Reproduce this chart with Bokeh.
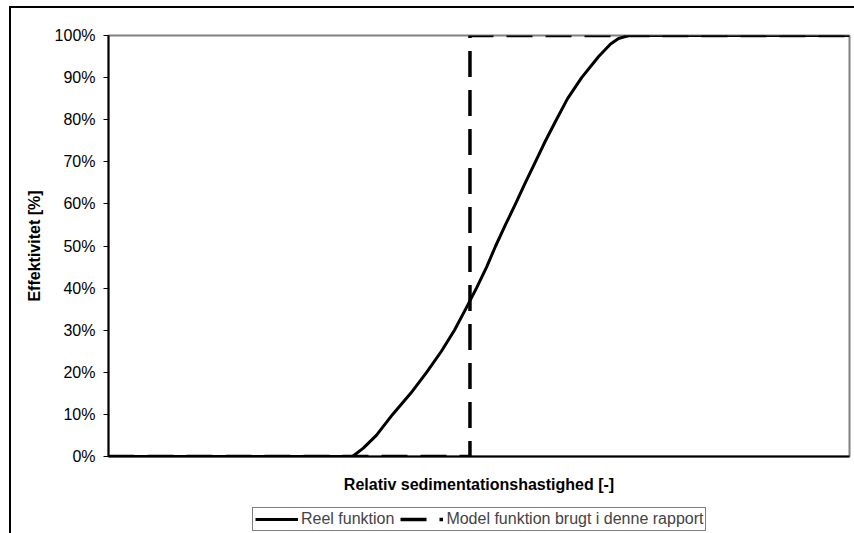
from bokeh.plotting import figure
from bokeh.layouts import column
from bokeh.models import (Range1d, FixedTicker, PrintfTickFormatter,
                          Legend, LegendItem)
from bokeh.embed import file_html
from bokeh.resources import INLINE

# ---- data ----
x_real = [0.0, 0.675, 0.705, 0.741, 0.786, 0.836, 0.880, 0.921, 0.957, 0.988,
          1.018, 1.046, 1.071, 1.098, 1.126, 1.153, 1.181, 1.209, 1.239, 1.270,
          1.309, 1.356, 1.389, 1.411, 1.439, 2.05]
y_real = [0, 0, 2, 5, 10, 15, 20, 25, 30, 35,
          40, 45, 50, 55, 60, 65, 70, 75, 80, 85,
          90, 95, 98, 99.3, 100, 100]

x_model = [0.0, 1.0, 1.0, 2.05]
y_model = [0, 0, 100, 100]

y_ticks = [0, 10, 20, 30, 40, 50, 60, 70, 80, 90, 100]

label_real = "Reel funktion"
label_model = "Model funktion brugt i denne rapport"
x_title = "Relativ sedimentationshastighed [-]"
y_title = "Effektivitet [%]"

FONT = "Liberation Sans"
DASH = "26 13"

frame_css = ("linear-gradient(black, black) 9px 6px / 2px 100% no-repeat, "
             "linear-gradient(black, black) 9px 6px / 100% 2px no-repeat, white")

# ---- main chart ----
p = figure(width=854, height=500, x_range=Range1d(0, 2.05), y_range=Range1d(0, 100),
           output_backend="svg", toolbar_location=None,
           min_border_left=108, min_border_right=5, min_border_top=35,
           min_border_bottom=44)

p.grid.visible = False
p.background_fill_color = "white"
p.border_fill_alpha = 0
p.outline_line_color = "#808080"
p.outline_line_width = 2

p.line(x_real, y_real, line_color="black", line_width=3, line_join="round")
p.line(x_model, y_model, line_color="black", line_width=3.5, line_dash=DASH)

xa = p.xaxis[0]
xa.ticker = FixedTicker(ticks=[])
xa.axis_label = x_title
xa.axis_label_text_font = FONT
xa.axis_label_text_font_size = "16px"
xa.axis_label_text_font_style = "bold"
xa.axis_label_text_color = "black"
xa.axis_line_width = 2
xa.axis_line_color = "black"
xa.major_tick_out = 0
xa.major_tick_in = 0
xa.minor_tick_out = 0
xa.minor_tick_in = 0
xa.major_label_standoff = 0
xa.axis_label_standoff = 19

ya = p.yaxis[0]
ya.ticker = FixedTicker(ticks=y_ticks)
ya.formatter = PrintfTickFormatter(format="%d%%")
ya.major_label_text_font = FONT
ya.major_label_text_font_size = "16px"
ya.major_label_text_color = "black"
ya.major_tick_out = 5
ya.major_tick_in = 0
ya.minor_tick_out = 0
ya.minor_tick_in = 0
ya.major_tick_line_color = "black"
ya.axis_line_width = 2
ya.axis_line_color = "black"
ya.major_label_standoff = 8
ya.axis_label = y_title
ya.axis_label_text_font = FONT
ya.axis_label_text_font_size = "16px"
ya.axis_label_text_font_style = "bold"
ya.axis_label_text_color = "black"
ya.axis_label_standoff = 9

# ---- legend strip (its sample lines lie outside its own visible range) ----
q = figure(width=854, height=33, x_range=Range1d(-10, -9), y_range=Range1d(-10, -9),
           output_backend="svg", toolbar_location=None,
           x_axis_location=None, y_axis_location=None,
           min_border=0)
q.grid.visible = False
q.outline_line_color = None
q.background_fill_alpha = 0
q.border_fill_alpha = 0
l1 = q.line(x_real, y_real, line_color="black", line_width=3)
l2 = q.line(x_model, y_model, line_color="black", line_width=3.5, line_dash=DASH)

legend = Legend(items=[LegendItem(label=label_real, renderers=[l1]),
                       LegendItem(label=label_model, renderers=[l2])],
                orientation="horizontal", location=(144, 2),
                border_line_color="black", border_line_width=1,
                background_fill_color="white",
                label_text_font=FONT, label_text_font_size="16px",
                glyph_width=43, glyph_height=16, label_standoff=3,
                spacing=6, padding=2, margin=0)
q.add_layout(legend, "center")

layout = column(p, q, spacing=0, styles={"background": frame_css})

open("out.html", "w").write(file_html(layout, INLINE))
